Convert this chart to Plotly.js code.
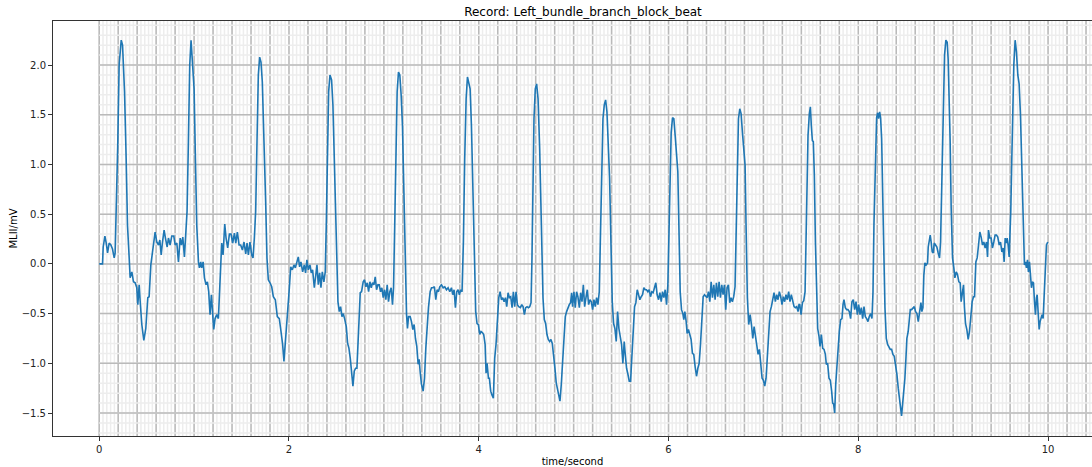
<!DOCTYPE html>
<html>
<head>
<meta charset="utf-8">
<script src="https://cdn.plot.ly/plotly-3.0.1.min.js"></script>
<style>
  html, body { margin: 0; padding: 0; background: #fff; }
  #chart { width: 1092px; height: 467px; }
</style>
</head>
<body>
<div id="chart"></div>
<script>
// ECG record: Left bundle branch block beat (MLII lead)
const time1 = [0, 0.035, 0.042, 0.06, 0.074, 0.088, 0.105, 0.123, 0.14, 0.158,
  0.168, 0.18, 0.196, 0.21, 0.232, 0.246, 0.267, 0.284, 0.298, 0.316,
  0.326, 0.344, 0.361, 0.379, 0.396, 0.407, 0.421, 0.432, 0.449, 0.47,
  0.491, 0.512, 0.526, 0.544, 0.554, 0.572, 0.589, 0.607, 0.625, 0.639,
  0.653, 0.667, 0.684, 0.698, 0.716, 0.73, 0.747, 0.765, 0.786, 0.8,
  0.818, 0.835, 0.853, 0.867, 0.881, 0.898, 0.912, 0.926, 0.94, 0.954,
  0.968, 0.982, 1.0, 1.014, 1.028, 1.046, 1.056, 1.07, 1.08, 1.095,
  1.109, 1.126, 1.14, 1.154, 1.168, 1.182, 1.196, 1.207, 1.221, 1.239,
  1.256, 1.27, 1.281, 1.291, 1.305, 1.323, 1.337, 1.354, 1.372, 1.389,
  1.407, 1.425, 1.439, 1.456, 1.474, 1.491, 1.509, 1.526, 1.544, 1.558,
  1.572, 1.589, 1.607, 1.621, 1.635, 1.649, 1.663, 1.677, 1.691, 1.705,
  1.719, 1.737, 1.754, 1.768, 1.782, 1.8, 1.818, 1.835];
const mv1 = [0, 0, 0.17, 0.28, 0.21, 0.11, 0.21, 0.19, 0.15, 0.06,
  0.11, 0.49, 1.23, 2.0, 2.25, 2.2, 1.73, 1.06, 0.39, 0.06,
  -0.14, -0.08, -0.18, -0.19, -0.24, -0.41, -0.21, -0.38, -0.61, -0.77,
  -0.65, -0.34, -0.33, -0.01, 0.06, 0.19, 0.32, 0.22, 0.19, 0.24,
  0.09, 0.22, 0.34, 0.26, 0.17, 0.26, 0.19, 0.28, 0.28, 0.19,
  0.21, 0.02, 0.26, 0.19, 0.27, 0.07, 0.26, 0.53, 1.23, 2.0,
  2.25, 2.06, 1.76, 1.06, 0.39, 0.02, -0.04, 0.02, -0.04, 0.02,
  -0.14, -0.21, -0.18, -0.28, -0.51, -0.31, -0.51, -0.66, -0.55, -0.51,
  -0.55, -0.21, 0.06, 0.21, 0.09, 0.40, 0.26, 0.16, 0.30, 0.30,
  0.21, 0.31, 0.21, 0.32, 0.19, 0.19, 0.14, 0.22, 0.10, 0.21,
  0.09, 0.22, 0.09, 0.06, 0.26, 0.53, 1.23, 1.90, 2.08, 2.03,
  1.83, 1.29, 0.63, 0.06, -0.16, -0.19, -0.23, -0.33];

const time2 = [1.856, 1.877, 1.898, 1.916, 1.933, 1.947, 1.961, 1.975, 1.989, 2.004,
  2.018, 2.035, 2.053, 2.067, 2.081, 2.098, 2.112, 2.126, 2.144, 2.161,
  2.175, 2.189, 2.204, 2.221, 2.235, 2.249, 2.267, 2.281, 2.295, 2.309,
  2.323, 2.337, 2.351, 2.368, 2.382, 2.393, 2.404, 2.418, 2.432, 2.449,
  2.463, 2.481, 2.498, 2.516, 2.53, 2.544, 2.558, 2.572, 2.586, 2.604,
  2.618, 2.632, 2.646, 2.66, 2.674, 2.688, 2.702, 2.716, 2.726, 2.74,
  2.751, 2.765, 2.782, 2.796, 2.811, 2.825, 2.839, 2.853, 2.867, 2.881,
  2.895, 2.909, 2.923, 2.937, 2.951, 2.965, 2.979, 2.993, 3.007, 3.021,
  3.035, 3.049, 3.063, 3.077, 3.091, 3.102, 3.112, 3.126, 3.14, 3.154,
  3.168, 3.182, 3.196, 3.211, 3.225, 3.239, 3.249, 3.26, 3.277, 3.291,
  3.305, 3.319, 3.333, 3.347, 3.361, 3.372, 3.382, 3.396, 3.414, 3.428,
  3.442, 3.456, 3.47, 3.488, 3.502, 3.519, 3.533, 3.547, 3.561, 3.575,
  3.589, 3.607, 3.625];
const mv2 = [-0.36, -0.53, -0.55, -0.68, -0.81, -0.98, -0.81, -0.65, -0.48, -0.24,
  -0.03, -0.06, -0.01, -0.04, 0.01, 0.07, -0.03, 0.02, -0.08, -0.01,
  -0.09, 0.04, -0.06, -0.01, -0.09, -0.06, -0.24, -0.14, -0.01, -0.21,
  -0.09, -0.24, -0.08, -0.18, -0.08, 0.39, 1.06, 1.73, 1.90, 1.85,
  1.60, 0.99, 0.22, -0.38, -0.48, -0.43, -0.53, -0.50, -0.55, -0.63,
  -0.80, -0.85, -0.95, -1.08, -1.23, -1.08, -1.05, -1.05, -0.78, -0.48,
  -0.29, -0.28, -0.18, -0.16, -0.23, -0.19, -0.28, -0.18, -0.24, -0.19,
  -0.21, -0.13, -0.26, -0.21, -0.21, -0.28, -0.24, -0.34, -0.26, -0.36,
  -0.21, -0.38, -0.28, -0.24, -0.41, -0.24, 0.39, 1.13, 1.73, 1.93,
  1.90, 1.70, 1.39, 0.73, 0.06, -0.51, -0.65, -0.53, -0.53, -0.58,
  -0.66, -0.61, -0.75, -0.83, -1.01, -0.96, -1.08, -1.21, -1.28, -1.15,
  -0.85, -0.61, -0.44, -0.28, -0.24, -0.24, -0.23, -0.36, -0.26, -0.28,
  -0.23, -0.21, -0.24];

const time3 = [3.642, 3.66, 3.677, 3.695, 3.712, 3.726, 3.74, 3.754, 3.768, 3.782,
  3.796, 3.81, 3.824, 3.838, 3.852, 3.867, 3.881, 3.895, 3.909, 3.923,
  3.94, 3.954, 3.968, 3.982, 3.996, 4.01, 4.024, 4.038, 4.052, 4.067,
  4.077, 4.088, 4.102, 4.112, 4.126, 4.14, 4.154, 4.168, 4.182, 4.196,
  4.211, 4.225, 4.239, 4.253, 4.267, 4.281, 4.295, 4.309, 4.323, 4.337,
  4.351, 4.365, 4.379, 4.393, 4.407, 4.421, 4.439, 4.453, 4.467, 4.481,
  4.495, 4.509, 4.523, 4.537, 4.551, 4.561, 4.572, 4.582, 4.596, 4.61,
  4.625, 4.642, 4.66, 4.677, 4.691, 4.705, 4.719, 4.733, 4.747, 4.761,
  4.775, 4.789, 4.803, 4.817, 4.831, 4.845, 4.856, 4.87, 4.884, 4.898,
  4.912, 4.926, 4.94, 4.954, 4.968, 4.979, 4.989, 5.003, 5.017, 5.031,
  5.045, 5.06, 5.074, 5.088, 5.102, 5.116, 5.13, 5.144, 5.158, 5.172,
  5.186, 5.2, 5.214, 5.228, 5.242, 5.256, 5.27, 5.281, 5.295, 5.309,
  5.323, 5.337, 5.351, 5.365, 5.379, 5.393, 5.407, 5.421, 5.435, 5.449,
  5.463, 5.477, 5.491, 5.505, 5.519, 5.533];
const mv3 = [-0.23, -0.26, -0.24, -0.28, -0.24, -0.31, -0.26, -0.44, -0.28, -0.26,
  -0.31, -0.26, -0.28, 0.22, 1.06, 1.66, 1.88, 1.80, 1.76, 1.39,
  0.73, 0.06, -0.48, -0.60, -0.61, -0.71, -0.68, -0.69, -0.71, -0.81,
  -1.10, -1.00, -1.15, -1.15, -1.28, -1.32, -1.35, -0.95, -0.81, -0.58,
  -0.34, -0.28, -0.36, -0.34, -0.38, -0.34, -0.43, -0.29, -0.34, -0.33,
  -0.44, -0.28, -0.43, -0.28, -0.41, -0.43, -0.44, -0.41, -0.43, -0.51,
  -0.44, -0.43, -0.44, -0.43, -0.39, 0.06, 0.89, 1.46, 1.76, 1.81,
  1.66, 1.16, 0.39, -0.34, -0.56, -0.60, -0.71, -0.76, -0.78, -0.76,
  -0.80, -0.91, -1.05, -1.20, -1.26, -1.31, -1.38, -1.21, -0.95, -0.71,
  -0.53, -0.48, -0.44, -0.41, -0.39, -0.29, -0.43, -0.28, -0.44, -0.28,
  -0.33, -0.44, -0.29, -0.38, -0.21, -0.43, -0.34, -0.26, -0.41, -0.36,
  -0.38, -0.46, -0.36, -0.43, -0.34, -0.41, -0.28, 0.22, 1.06, 1.46,
  1.60, 1.65, 1.53, 1.23, 0.86, 0.22, -0.38, -0.60, -0.65, -0.78,
  -0.48, -0.65, -0.75, -0.81, -1.00, -0.78];

const time4 = [5.544, 5.558, 5.572, 5.586, 5.6, 5.614, 5.628, 5.642, 5.656, 5.67,
  5.684, 5.698, 5.712, 5.726, 5.74, 5.754, 5.768, 5.782, 5.796, 5.81,
  5.824, 5.838, 5.852, 5.866, 5.88, 5.895, 5.909, 5.923, 5.937, 5.951,
  5.965, 5.979, 5.993, 6.003, 6.014, 6.028, 6.042, 6.056, 6.07, 6.084,
  6.098, 6.109, 6.123, 6.137, 6.151, 6.161, 6.172, 6.186, 6.196, 6.21,
  6.224, 6.238, 6.252, 6.266, 6.28, 6.295, 6.309, 6.323, 6.337, 6.351,
  6.365, 6.379, 6.393, 6.407, 6.421, 6.435, 6.449, 6.463, 6.477, 6.491,
  6.505, 6.519, 6.533, 6.547, 6.561, 6.575, 6.589, 6.603, 6.617, 6.631,
  6.645, 6.659, 6.673, 6.687, 6.701, 6.712, 6.723, 6.737, 6.751, 6.765,
  6.779, 6.793, 6.807, 6.817, 6.831, 6.845, 6.86, 6.874, 6.888, 6.902,
  6.916, 6.93, 6.944, 6.958, 6.972, 6.986, 7.0, 7.014, 7.028, 7.042,
  7.056, 7.07, 7.084, 7.098, 7.112, 7.126, 7.14, 7.154, 7.168, 7.182,
  7.196, 7.21, 7.224, 7.238, 7.252, 7.266, 7.28, 7.294, 7.309, 7.323,
  7.337, 7.351, 7.365, 7.375];
const mv4 = [-0.91, -1.05, -1.11, -1.18, -1.18, -0.95, -0.68, -0.43, -0.39, -0.26,
  -0.31, -0.36, -0.33, -0.31, -0.24, -0.26, -0.26, -0.28, -0.26, -0.33,
  -0.28, -0.29, -0.24, -0.19, -0.31, -0.36, -0.29, -0.38, -0.28, -0.34,
  -0.26, -0.41, -0.21, 0.22, 0.89, 1.32, 1.47, 1.46, 1.29, 1.06,
  0.93, 0.39, -0.28, -0.46, -0.50, -0.56, -0.48, -0.58, -0.70, -0.66,
  -0.73, -0.76, -0.90, -0.91, -1.03, -1.13, -1.05, -1.00, -0.81, -0.55,
  -0.33, -0.31, -0.33, -0.34, -0.28, -0.38, -0.18, -0.34, -0.21, -0.36,
  -0.19, -0.33, -0.18, -0.34, -0.21, -0.31, -0.21, -0.46, -0.24, -0.21,
  -0.39, -0.34, -0.38, -0.33, -0.23, 0.22, 0.99, 1.46, 1.56, 1.51,
  1.32, 1.13, 0.99, 0.39, -0.34, -0.61, -0.51, -0.61, -0.75, -0.63,
  -0.71, -0.83, -0.91, -0.86, -0.98, -1.15, -1.17, -1.23, -1.15, -0.95,
  -0.68, -0.48, -0.43, -0.34, -0.29, -0.38, -0.31, -0.36, -0.28, -0.33,
  -0.41, -0.33, -0.38, -0.31, -0.36, -0.28, -0.38, -0.31, -0.36, -0.43,
  -0.44, -0.43, -0.48, -0.41];

const time5 = [7.383, 7.397, 7.411, 7.425, 7.439, 7.449, 7.46, 7.47, 7.484, 7.495,
  7.505, 7.516, 7.526, 7.537, 7.548, 7.562, 7.572, 7.586, 7.597, 7.611,
  7.625, 7.639, 7.653, 7.663, 7.677, 7.691, 7.705, 7.719, 7.73, 7.74,
  7.751, 7.762, 7.772, 7.786, 7.8, 7.814, 7.828, 7.839, 7.849, 7.863,
  7.877, 7.891, 7.905, 7.919, 7.933, 7.947, 7.962, 7.976, 7.99, 8.004,
  8.018, 8.032, 8.046, 8.06, 8.074, 8.088, 8.102, 8.116, 8.13, 8.144,
  8.155, 8.165, 8.179, 8.193, 8.204, 8.214, 8.225, 8.235, 8.246, 8.256,
  8.267, 8.281, 8.295, 8.309, 8.323, 8.337, 8.351, 8.365, 8.379, 8.393,
  8.407, 8.421, 8.435, 8.446, 8.456, 8.467, 8.481, 8.491, 8.502, 8.512,
  8.526, 8.537, 8.548, 8.562, 8.576, 8.59, 8.604, 8.618, 8.632, 8.646,
  8.66, 8.67, 8.681, 8.691, 8.702, 8.716, 8.73, 8.737, 8.747, 8.758,
  8.768, 8.779, 8.79, 8.8, 8.814, 8.828, 8.842, 8.856, 8.867, 8.877,
  8.888, 8.898, 8.909, 8.923, 8.937, 8.947, 8.958, 8.968, 8.979, 8.993,
  9.007, 9.018, 9.032, 9.046, 9.06, 9.074, 9.084, 9.095, 9.109, 9.119,
  9.13, 9.144, 9.158, 9.172, 9.186, 9.2, 9.214];
const mv5 = [-0.41, -0.51, -0.39, -0.37, -0.28, 0.12, 0.73, 1.29, 1.51, 1.58,
  1.39, 1.24, 1.23, 0.89, 0.22, -0.38, -0.65, -0.73, -0.83, -0.71,
  -0.85, -0.86, -0.91, -1.01, -1.00, -1.15, -1.17, -1.28, -1.40, -1.41,
  -1.50, -1.21, -1.05, -0.88, -0.68, -0.56, -0.55, -0.41, -0.36, -0.44,
  -0.46, -0.46, -0.48, -0.55, -0.38, -0.36, -0.46, -0.38, -0.51, -0.41,
  -0.51, -0.44, -0.55, -0.43, -0.53, -0.55, -0.58, -0.53, -0.50, -0.55,
  -0.28, 0.39, 1.06, 1.47, 1.52, 1.46, 1.53, 1.47, 1.26, 0.89,
  0.22, -0.44, -0.75, -0.81, -0.83, -0.86, -0.86, -0.91, -0.93, -1.01,
  -1.11, -1.25, -1.38, -1.48, -1.53, -1.41, -1.28, -1.15, -0.95, -0.75,
  -0.68, -0.55, -0.46, -0.46, -0.44, -0.43, -0.48, -0.50, -0.58, -0.46,
  -0.39, -0.48, -0.44, -0.11, 0.01, -0.01, 0.01, 0.17, 0.26, 0.29,
  0.22, 0.12, 0.11, 0.21, 0.19, 0.17, 0.11, 0.06, 0.22, 0.73,
  1.39, 1.90, 2.10, 2.25, 2.23, 2.06, 1.73, 1.23, 0.56, 0.06,
  -0.04, -0.14, -0.08, -0.11, -0.18, -0.19, -0.38, -0.28, -0.21, -0.44,
  -0.60, -0.66, -0.76, -0.68, -0.55, -0.38, -0.33];

const time6 = [9.225, 9.239, 9.253, 9.267, 9.281, 9.295, 9.309, 9.323, 9.337, 9.351,
  9.362, 9.372, 9.386, 9.4, 9.414, 9.428, 9.442, 9.456, 9.47, 9.485,
  9.499, 9.513, 9.527, 9.537, 9.548, 9.558, 9.569, 9.579, 9.59, 9.597,
  9.607, 9.618, 9.628, 9.639, 9.653, 9.667, 9.681, 9.695, 9.709, 9.72,
  9.73, 9.741, 9.751, 9.762, 9.772, 9.783, 9.793, 9.804, 9.814, 9.825,
  9.835, 9.846, 9.857, 9.867, 9.878, 9.885, 9.895, 9.906, 9.916, 9.927,
  9.937, 9.948, 9.958, 9.969, 9.983, 9.997];
const mv6 = [-0.33, 0.02, 0.06, 0.19, 0.32, 0.27, 0.19, 0.22, 0.16, 0.22,
  0.07, 0.34, 0.26, 0.26, 0.16, 0.22, 0.29, 0.29, 0.27, 0.19,
  0.22, 0.12, 0.16, 0.02, 0.26, 0.21, 0.26, 0.19, 0.07, 0.26,
  0.53, 1.06, 1.63, 2.0, 2.25, 2.13, 1.90, 1.81, 1.50, 1.06,
  0.56, 0.22, -0.01, 0.02, -0.04, 0.04, -0.08, 0.02, -0.08, -0.24,
  -0.18, -0.19, -0.38, -0.51, -0.34, -0.31, -0.48, -0.66, -0.58, -0.53,
  -0.51, -0.55, -0.34, -0.04, 0.19, 0.22];

const xTickVals = [0, 2, 4, 6, 8, 10];
const xTickText = ['0', '2', '4', '6', '8', '10'];
const yTickVals = [-1.5, -1.0, -0.5, 0.0, 0.5, 1.0, 1.5, 2.0];
const yTickText = ['\u22121.5', '\u22121.0', '\u22120.5', '0.0', '0.5', '1.0', '1.5', '2.0'];

const titleText = 'Record: Left_bundle_branch_block_beat';
const xLabel = 'time/second';
const yLabel = 'MLII/mV';

const timeAll = [].concat(time1, time2, time3, time4, time5, time6);
const mvAll = [].concat(mv1, mv2, mv3, mv4, mv5, mv6);
if (timeAll.length !== mvAll.length) console.error('length mismatch', timeAll.length, mvAll.length);

// ECG paper grid (style only)
function gridPath(start, stop, step, vertical, a0, a1) {
  let p = '';
  const n = Math.round((stop - start) / step);
  for (let k = 0; k <= n; k++) {
    const v = +(start + k * step).toFixed(4);
    p += vertical ? `M${v},${a0}L${v},${a1}` : `M${a0},${v}L${a1},${v}`;
  }
  return p;
}
const minorCol = '#ededed', majorCol = '#bababa';
const shapes = [
  {type: 'path', xref: 'x', yref: 'paper', layer: 'below', path: gridPath(0, 10.48, 0.04, true, 0, 1), line: {color: minorCol, width: 1.5}},
  {type: 'path', xref: 'x', yref: 'y', layer: 'below', path: gridPath(-1.7, 2.4, 0.1, false, 0, 10.6), line: {color: minorCol, width: 1.5}},
  {type: 'path', xref: 'x', yref: 'paper', layer: 'below', path: gridPath(0, 10.4, 0.2, true, 0, 1), line: {color: majorCol, width: 1.5}},
  {type: 'path', xref: 'x', yref: 'y', layer: 'below', path: gridPath(-1.5, 2.0, 0.5, false, 0, 10.6), line: {color: majorCol, width: 1.5}}
];

const font = 'DejaVu Sans, sans-serif';
const trace = {
  x: timeAll, y: mvAll, type: 'scatter', mode: 'lines',
  line: {color: '#1f77b4', width: 1.6}, hoverinfo: 'skip'
};

const layout = {
  width: 1092, height: 467,
  margin: {l: 53, r: 0, t: 21, b: 31, pad: 0},
  paper_bgcolor: '#ffffff', plot_bgcolor: '#ffffff',
  font: {family: font, size: 10, color: '#000'},
  showlegend: false,
  title: {text: titleText, font: {family: font, size: 12, color: '#000'},
          xref: 'container', yref: 'container', x: 583 / 1092, xanchor: 'center', y: 1 - 12 / 467, yanchor: 'middle'},
  xaxis: {
    range: [-0.487, 10.463], tickvals: xTickVals, ticktext: xTickText,
    ticks: 'outside', ticklen: 4, tickwidth: 1, tickcolor: '#333',
    showgrid: false, zeroline: false, showline: true, linecolor: '#333', linewidth: 1, mirror: true,
    tickfont: {family: font, size: 10, color: '#222'},
    title: {text: xLabel, font: {family: font, size: 10, color: '#000'}, standoff: 3},
    automargin: false, fixedrange: true
  },
  yaxis: {
    range: [-1.731, 2.443], tickvals: yTickVals, ticktext: yTickText,
    ticks: 'outside', ticklen: 4, tickwidth: 1, tickcolor: '#333',
    showgrid: false, zeroline: false, showline: true, linecolor: '#333', linewidth: 1, mirror: false,
    tickfont: {family: font, size: 10, color: '#222'},
    title: {text: yLabel, font: {family: font, size: 10, color: '#000'}, standoff: 2},
    automargin: false, fixedrange: true
  },
  shapes: shapes,
  hovermode: false
};

Plotly.newPlot('chart', [trace], layout, {displayModeBar: false, staticPlot: true});
</script>
</body>
</html>
